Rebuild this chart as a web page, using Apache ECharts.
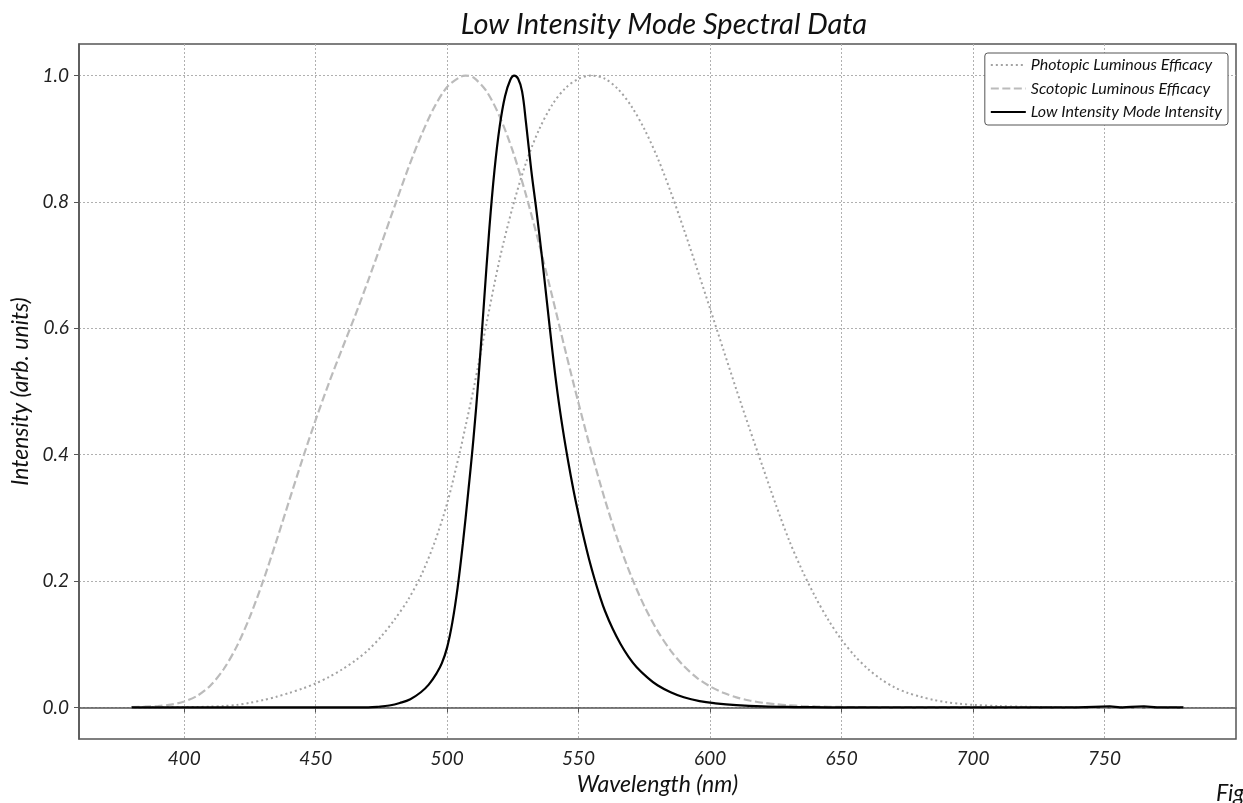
<!DOCTYPE html>
<html>
<head>
<meta charset="utf-8">
<script src="https://cdn.jsdelivr.net/npm/echarts@6/dist/echarts.min.js"></script>
<style>
  html, body { margin: 0; padding: 0; background: #fff; }
  #chart { width: 1243px; height: 803px; }
</style>
</head>
<body>
<div id="chart"></div>
<script>
// wavelength grid (nm) for the two eye-sensitivity curves
var effWl = [380, 385, 390, 395, 400, 405, 410, 415, 420, 425, 430, 435, 440, 445, 450, 455, 460, 465, 470, 475,
  480, 485, 490, 495, 500, 505, 507, 510, 515, 520, 525, 530, 535, 540, 545, 550, 555, 560, 565, 570, 575,
  580, 585, 590, 595, 600, 605, 610, 615, 620, 625, 630, 635, 640, 645, 650, 655, 660, 665, 670, 675,
  680, 685, 690, 695, 700, 710, 720, 730, 740, 750, 760, 770, 780];
var photopic = [0.00004, 0.00006, 0.00012, 0.00022, 0.0004, 0.00064, 0.0012, 0.0022, 0.004, 0.0073, 0.0116, 0.0168, 0.023, 0.0298, 0.038, 0.048, 0.06, 0.0739, 0.091, 0.1126,
  0.139, 0.1693, 0.208, 0.2586, 0.323, 0.4073, 0.445, 0.503, 0.6082, 0.71, 0.7932, 0.862, 0.9149, 0.954, 0.9803, 0.995, 1.0, 0.995, 0.9786, 0.952, 0.9154,
  0.87, 0.8163, 0.757, 0.6949, 0.631, 0.5668, 0.503, 0.4412, 0.381, 0.321, 0.265, 0.217, 0.175, 0.1382, 0.107, 0.0816, 0.061, 0.0446, 0.032, 0.0232,
  0.017, 0.0119, 0.0082, 0.0057, 0.0041, 0.0021, 0.001, 0.0005, 0.00025, 0.00012, 0.00006, 0.00003, 0.000015];
var scotopic = [0.0006, 0.0011, 0.0022, 0.0045, 0.0093, 0.0185, 0.0348, 0.0604, 0.0966, 0.1436, 0.1998, 0.2625, 0.3281, 0.3931, 0.455, 0.513, 0.567, 0.62, 0.676, 0.734,
  0.793, 0.851, 0.904, 0.949, 0.982, 0.998, 1.0, 0.997, 0.975, 0.935, 0.88, 0.811, 0.733, 0.65, 0.564, 0.481, 0.402, 0.3288, 0.2639, 0.2076, 0.1602,
  0.1212, 0.0899, 0.0655, 0.0469, 0.0332, 0.0231, 0.0159, 0.0109, 0.0074, 0.005, 0.0033, 0.0022, 0.0015, 0.001, 0.0007, 0.0005, 0.0003, 0.0002, 0.00015, 0.0001,
  0.00007, 0.00005, 0.00004, 0.00002, 0.00002, 0.00001, 0, 0, 0, 0, 0, 0, 0];

// measured emission of the low intensity mode
var lowWl = [380, 400, 420, 440, 460, 470, 474, 478, 482, 486, 490, 493, 496, 498, 500, 502, 504, 506, 508, 510, 512, 514, 516, 518, 520, 522, 524, 525.5,
  527, 528.5, 530, 532, 534, 536, 538, 540, 542, 544, 546, 548, 550, 552, 554, 556, 558, 560, 563, 566, 569, 572, 576, 580, 585, 590, 596, 602, 610, 620, 632, 645, 660,
  700, 740, 752, 756, 760, 765, 770, 780];
var lowVal = [0, 0, 0, 0, 0, 0, 0.001, 0.003, 0.007, 0.013, 0.024, 0.036, 0.054, 0.07, 0.095, 0.135, 0.19, 0.26, 0.34, 0.425, 0.525, 0.64, 0.755, 0.85, 0.92, 0.967, 0.993, 1.0,
  0.995, 0.975, 0.925, 0.85, 0.785, 0.715, 0.64, 0.565, 0.497, 0.44, 0.39, 0.345, 0.305, 0.268, 0.234, 0.204, 0.177, 0.153, 0.124, 0.1, 0.08, 0.064, 0.048, 0.035, 0.024, 0.016, 0.01, 0.0065, 0.0035, 0.0015, 0.0006, 0.0002, 0.0001,
  0, 0, 0.0015, 0, 0.001, 0.0015, 0, 0];

var xTicks = [400, 450, 500, 550, 600, 650, 700, 750];
var yTicks = [0, 0.2, 0.4, 0.6, 0.8, 1.0];

function pairs(xs, ys) {
  return xs.map(function (x, i) { return [x, ys[i]]; });
}

var FONT = "Lato";
var myChart = echarts.init(document.getElementById("chart"), null, { renderer: "canvas" });

var option = {
  animation: false,
  backgroundColor: "#fff",
  title: {
    text: "Low Intensity Mode Spectral Data",
    left: 659,
    textAlign: "center",
    top: 5,
    textStyle: { fontFamily: FONT, fontStyle: "italic", fontWeight: "normal", fontSize: 29, color: "#111" }
  },
  legend: {
    orient: "vertical",
    right: 15,
    top: 53,
    padding: [4, 6, 5, 5],
    itemWidth: 35,
    itemHeight: 16,
    itemGap: 7.5,
    itemTextGap: 14,
    backgroundColor: "#fff",
    borderColor: "#555",
    borderWidth: 1,
    borderRadius: 3,
    itemStyle: { opacity: 0 },
    textStyle: { fontFamily: FONT, fontStyle: "italic", fontSize: 16, color: "#111" },
    data: ["Photopic Luminous Efficacy", "Scotopic Luminous Efficacy", "Low Intensity Mode Intensity"]
  },
  grid: {
    left: 79,
    right: 7,
    top: 44,
    bottom: 64,
    show: true,
    borderColor: "#555",
    borderWidth: 1.5,
    outerBoundsMode: "none"
  },
  xAxis: {
    type: "value",
    min: 360,
    max: 800,
    name: "Wavelength (nm)",
    nameLocation: "middle",
    nameGap: 34,
    nameTextStyle: { fontFamily: FONT, fontStyle: "italic", fontSize: 23, color: "#111" },
    axisLine: { show: true, lineStyle: { color: "#555", width: 1.5 } },
    axisTick: { show: true, length: 5, customValues: xTicks, lineStyle: { color: "#555" } },
    axisLabel: { customValues: xTicks, margin: 10, fontFamily: FONT, fontStyle: "italic", fontSize: 19, color: "#222" },
    splitLine: { show: true, lineStyle: { color: "#b0b0b0", width: 1, type: [2, 2] } }
  },
  yAxis: {
    type: "value",
    min: -0.05,
    max: 1.05,
    name: "Intensity (arb. units)",
    nameLocation: "middle",
    nameGap: 45,
    nameTextStyle: { fontFamily: FONT, fontStyle: "italic", fontSize: 23, color: "#111" },
    axisLine: { show: true, lineStyle: { color: "#555", width: 1.5 } },
    axisTick: { show: true, length: 5, customValues: yTicks, lineStyle: { color: "#555" } },
    axisLabel: {
      customValues: yTicks, margin: 10, fontFamily: FONT, fontStyle: "italic", fontSize: 19, color: "#222",
      formatter: function (v) { return v.toFixed(1); }
    },
    splitLine: { show: true, lineStyle: { color: "#b0b0b0", width: 1, type: [2, 2] } }
  },
  graphic: [
    {
      type: "text",
      left: 1216,
      top: 782,
      style: { text: "Fig", fontFamily: FONT, fontStyle: "italic", fontSize: 23, fill: "#111" }
    }
  ],
  series: [
    {
      name: "Photopic Luminous Efficacy",
      type: "line",
      showSymbol: false,
      symbol: "none",
      smooth: 0.3,
      lineStyle: { color: "#a3a3a3", width: 2, type: [2, 3] },
      itemStyle: { color: "#a3a3a3" },
      data: pairs(effWl, photopic)
    },
    {
      name: "Scotopic Luminous Efficacy",
      type: "line",
      showSymbol: false,
      symbol: "none",
      smooth: 0.3,
      lineStyle: { color: "#bbbbbb", width: 2.2, type: [8, 3.5] },
      itemStyle: { color: "#bbbbbb" },
      data: pairs(effWl, scotopic)
    },
    {
      name: "Low Intensity Mode Intensity",
      type: "line",
      showSymbol: false,
      symbol: "none",
      smooth: 0.4,
      lineStyle: { color: "#000", width: 2.2 },
      itemStyle: { color: "#000" },
      data: pairs(lowWl, lowVal)
    }
  ]
};

myChart.setOption(option);
</script>
</body>
</html>
